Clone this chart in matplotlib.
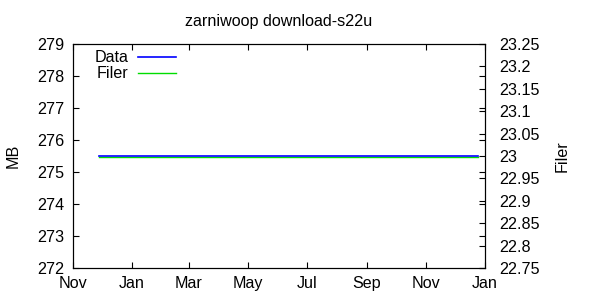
import matplotlib
matplotlib.use("Agg")
import matplotlib.pyplot as plt
import matplotlib.dates as mdates
from matplotlib.ticker import MultipleLocator
from datetime import datetime

plt.rcParams['font.family'] = ['Liberation Sans', 'DejaVu Sans']

title = "zarniwoop download-s22u"
dates = [datetime(2010, 11, 28), datetime(2011, 12, 25)]
data_mb = [275.5, 275.5]
filer = [22.9985, 22.9985]
xlim = [datetime(2010, 11, 1), datetime(2012, 1, 1)]
ylim_left = [272, 279]
ylim_right = [22.75, 23.25]
right_ticks = [22.75, 22.8, 22.85, 22.9, 22.95, 23, 23.05, 23.1, 23.15, 23.2, 23.25]
right_labels = ["22.75", "22.8", "22.85", "22.9", "22.95", "23", "23.05", "23.1", "23.15", "23.2", "23.25"]

fs = 11.6
fig = plt.figure(figsize=(6, 3), dpi=100)
ax = fig.add_axes([73/600, 1-268/300, (485-73)/600, (268-44)/300])
ax2 = ax.twinx()

ax2.plot(dates, filer, color='#00dd00', lw=1.0, label='Filer', zorder=1)
ax.plot(dates, data_mb, color='#0000ff', lw=1.2, label='Data', zorder=2)
ax.set_zorder(2)
ax.patch.set_visible(False)

ax.set_xlim(xlim)
ax.set_ylim(ylim_left)
ax.yaxis.set_major_locator(MultipleLocator(1))
ax2.set_ylim(ylim_right)
ax2.set_yticks(right_ticks)
ax2.set_yticklabels(right_labels)

ax.xaxis.set_major_locator(mdates.MonthLocator(bymonth=[1, 3, 5, 7, 9, 11]))
ax.xaxis.set_major_formatter(mdates.DateFormatter('%b'))

ax.tick_params(direction='in', length=4, width=0.8, labelsize=fs, top=True, right=True, pad=6)
ax2.tick_params(direction='in', length=4, width=0.8, labelsize=fs, left=False, pad=10)
ax.tick_params(axis='x', pad=6)

ax.set_ylabel('MB', fontsize=fs, labelpad=12)
ax2.set_ylabel('Filer', fontsize=fs, labelpad=11)
ax.set_title(title, fontsize=fs, pad=13)

for a in (ax, ax2):
    for s in a.spines.values():
        s.set_linewidth(0.8)

h1, l1 = ax.get_legend_handles_labels()
h2, l2 = ax2.get_legend_handles_labels()
leg = ax.legend(h1 + h2, l1 + l2, loc='upper left', bbox_to_anchor=(0.0375, 1.0),
                frameon=False, markerfirst=False, fontsize=fs, handlelength=2.4,
                handletextpad=0.55, labelspacing=0.05, borderaxespad=0)

fig.savefig('out.png', dpi=100)
